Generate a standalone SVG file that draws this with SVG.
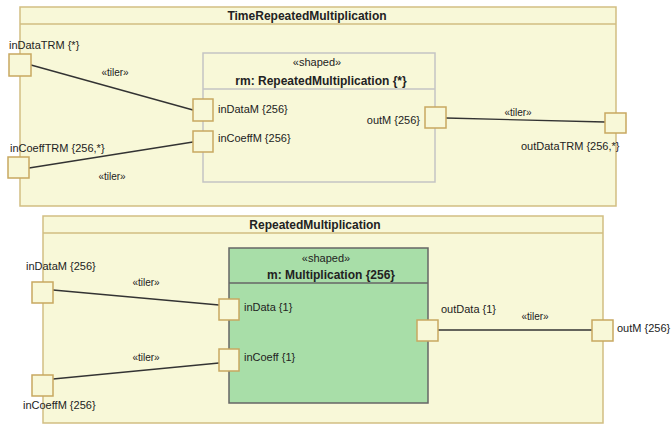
<svg xmlns="http://www.w3.org/2000/svg" width="672" height="426" viewBox="0 0 672 426">
<style>
.frame{fill:#f8f8d8;stroke:#d2be82;stroke-width:1.5}
.port{fill:#f8f8d8;stroke:#c8a860;stroke-width:1.5}
.rm{fill:none;stroke:#c4c4c4;stroke-width:1.5}
.m{fill:#a8dea8;stroke:#666;stroke-width:1.5}
.conn{stroke:#333;stroke-width:1.3;fill:none}
text{font-family:"Liberation Sans",Arial,sans-serif;font-size:11px;fill:#222}
.b{font-weight:bold;font-size:12px}
.s{font-size:10px}
.c{text-anchor:middle}
.e{text-anchor:end}
</style>
<rect width="672" height="426" fill="#fff"/>
<g id="TimeRepeatedMultiplication">
<rect class="frame" x="20" y="7" width="596" height="199"/>
<line x1="20" y1="24" x2="616" y2="24" stroke="#d2be82" stroke-width="1.5"/>
<text class="b c" x="307" y="20">TimeRepeatedMultiplication</text>
</g>
<g id="rm">
<rect class="rm" x="203" y="53" width="232" height="129"/>
<line x1="203" y1="89" x2="435" y2="89" stroke="#c4c4c4" stroke-width="1.5"/>
<text class="c" x="317" y="66">«shaped»</text>
<text class="b c" x="321" y="85">rm: RepeatedMultiplication {*}</text>
</g>
<g id="RepeatedMultiplication">
<rect class="frame" x="43" y="216" width="560" height="207"/>
<line x1="43" y1="233" x2="603" y2="233" stroke="#d2be82" stroke-width="1.5"/>
<text class="b c" x="315" y="229">RepeatedMultiplication</text>
</g>
<g id="m">
<rect class="m" x="229" y="248" width="199" height="155"/>
<line x1="229" y1="283" x2="428" y2="283" stroke="#666" stroke-width="1.5"/>
<text class="c" x="326" y="262">«shaped»</text>
<text class="b c" x="331" y="279">m: Multiplication {256}</text>
</g>
<g id="connectors">
<line class="conn" x1="31" y1="65" x2="193" y2="110"/>
<line class="conn" x1="29" y1="168" x2="193" y2="142"/>
<line class="conn" x1="446" y1="118" x2="605" y2="122"/>
<line class="conn" x1="53" y1="290" x2="219" y2="305"/>
<line class="conn" x1="53" y1="379" x2="219" y2="363"/>
<line class="conn" x1="438" y1="330" x2="592" y2="330"/>
<text class="s c" x="115" y="76">«tiler»</text>
<text class="s c" x="112" y="180">«tiler»</text>
<text class="s c" x="518" y="116">«tiler»</text>
<text class="s c" x="146" y="286">«tiler»</text>
<text class="s c" x="146" y="361">«tiler»</text>
<text class="s c" x="535" y="320">«tiler»</text>
</g>
<g id="inDataTRM">
<rect class="port" x="9" y="54" width="22" height="22"/>
<text x="9" y="49">inDataTRM {*}</text>
</g>
<g id="inCoeffTRM">
<rect class="port" x="8" y="157" width="21" height="21"/>
<text x="10" y="152">inCoeffTRM {256,*}</text>
</g>
<g id="inDataM_rm">
<rect class="port" x="193" y="99" width="20" height="22"/>
<text x="218" y="113">inDataM {256}</text>
</g>
<g id="inCoeffM_rm">
<rect class="port" x="193" y="131" width="20" height="21"/>
<text x="218" y="142">inCoeffM {256}</text>
</g>
<g id="outM_rm">
<rect class="port" x="425" y="107" width="21" height="21"/>
<text class="e" x="420" y="124">outM {256}</text>
</g>
<g id="outDataTRM">
<rect class="port" x="605" y="113" width="21" height="20"/>
<text x="521" y="150">outDataTRM  {256,*}</text>
</g>
<g id="inDataM">
<rect class="port" x="32" y="282" width="21" height="21"/>
<text x="26" y="270">inDataM {256}</text>
</g>
<g id="inCoeffM">
<rect class="port" x="32" y="375" width="21" height="21"/>
<text x="23" y="409">inCoeffM {256}</text>
</g>
<g id="inData">
<rect class="port" x="219" y="299" width="20" height="21"/>
<text x="244" y="311">inData {1}</text>
</g>
<g id="inCoeff">
<rect class="port" x="219" y="349" width="20" height="22"/>
<text x="244" y="361">inCoeff {1}</text>
</g>
<g id="outData">
<rect class="port" x="417" y="320" width="21" height="21"/>
<text x="441" y="313">outData {1}</text>
</g>
<g id="outM">
<rect class="port" x="592" y="320" width="21" height="21"/>
<text x="617" y="332">outM {256}</text>
</g>
</svg>
